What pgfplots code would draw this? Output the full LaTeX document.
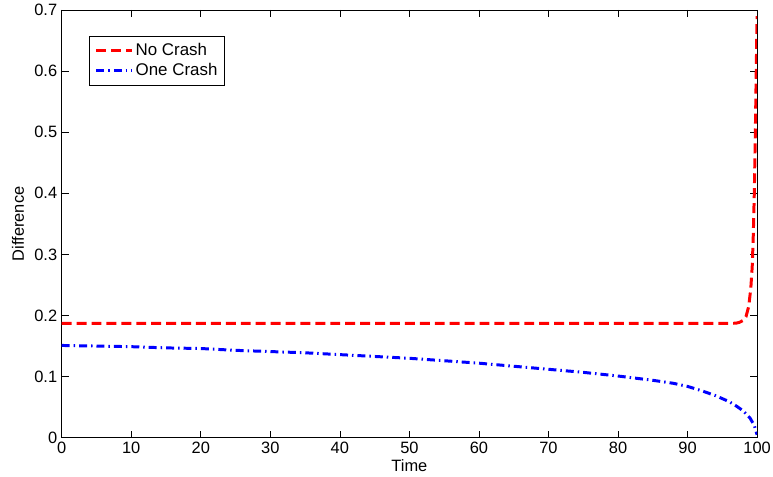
\documentclass[border=0pt]{standalone}
\usepackage{pgfplots}
\pgfplotsset{compat=1.18}
\usepackage{fontspec}
\setmainfont{Liberation Sans}
\begin{document}
\fontsize{16}{18}\selectfont
\begin{tikzpicture}
\begin{axis}[
  scale only axis, width=699pt, height=430pt,
  xmin=0, xmax=100, ymin=0, ymax=0.7,
  xtick={0,10,...,100}, ytick={0,0.1,...,0.7},
  yticklabels={0,0.1,0.2,0.3,0.4,0.5,0.6,0.7},
  tick align=inside, tick pos=both, major tick length=7pt,
  tick style={black, line width=0.6pt},
  axis line style={black, line width=0.8pt},
  /pgf/number format/assume math mode=true,
  ticklabel style={font=\fontsize{16.5}{18}\selectfont},
  xticklabel style={yshift=1pt},
  yticklabel style={xshift=1pt},
  xlabel={Time}, ylabel={Difference},
  label style={font=\fontsize{16.5}{18}\selectfont},
  xlabel style={at={(axis description cs:0.5,0)}, anchor=center, yshift=-28pt},
  ylabel style={at={(axis description cs:0,0.5)}, anchor=center, yshift=44pt},
  legend style={at={(0.04,0.94)}, anchor=north west, draw=black, line width=0.8pt, font=\fontsize{17}{19}\selectfont, inner xsep=5pt, inner ysep=5pt, row sep=2pt, legend cell align=left},
  legend image code/.code={\draw[#1] (0pt,0pt) -- (36pt,0pt);},
]
\addplot[red, line width=3pt, dash pattern=on 10pt off 5pt] coordinates {
(0,0.187) (20,0.187) (40,0.187) (60,0.187) (80,0.187) (96,0.187) (97,0.1875) (97.5,0.189) (98,0.192) (98.4,0.198) (98.8,0.215) (99.1,0.245) (99.3,0.28) (99.45,0.33) (99.6,0.4) (99.75,0.5) (99.88,0.6) (100,0.69)
};
\addlegendentry{No Crash}
\addplot[blue, line width=3pt, dash pattern=on 8pt off 4pt on 1.5pt off 4pt] coordinates {
(0,0.151) (5,0.150) (10,0.149) (15,0.147) (20,0.146) (25,0.143) (30,0.141) (35,0.139) (40,0.136) (45,0.133) (50,0.130) (55,0.126) (60,0.122) (65,0.117) (70,0.112) (75,0.107) (80,0.101) (85,0.094) (88,0.089) (90,0.084) (92,0.077) (94,0.069) (96,0.059) (97,0.052) (98,0.044) (99,0.032) (99.6,0.02) (100,0.005)
};
\addlegendentry{One Crash}
\end{axis}
\pgfresetboundingbox
\path (current axis.south west) ++(-62pt,-39pt) rectangle ++(777pt,479pt);
\end{tikzpicture}
\end{document}
